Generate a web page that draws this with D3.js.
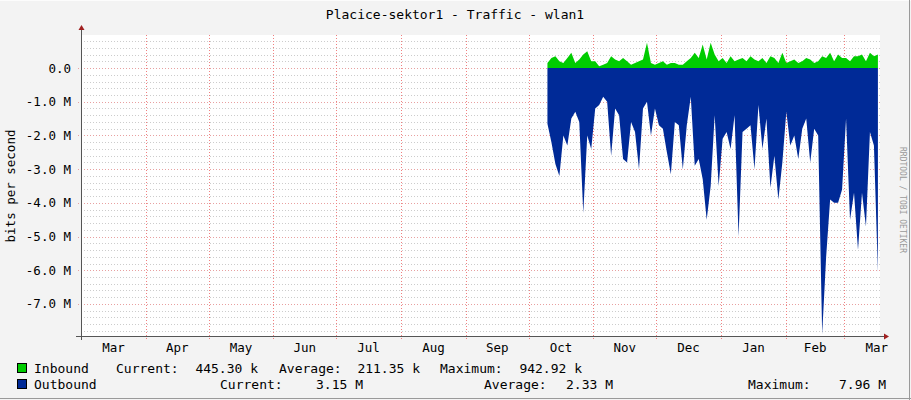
<!DOCTYPE html><html><head><meta charset="utf-8"><script src="https://cdn.jsdelivr.net/npm/d3@7"></script>
<style>body{margin:0;background:#f3f3f3}svg{display:block}text{font-family:"DejaVu Sans Mono",monospace;fill:#000}</style></head><body><svg id="c" width="911" height="400"></svg><script>
const title="Placice-sektor1 - Traffic - wlan1";
const monthLabels=["Mar","Apr","May","Jun","Jul","Aug","Sep","Oct","Nov","Dec","Jan","Feb","Mar"];
const monthStarts=["2013-03-01","2013-04-01","2013-05-01","2013-06-01","2013-07-01","2013-08-01","2013-09-01","2013-10-01","2013-11-01","2013-12-01","2014-01-01","2014-02-01","2014-03-01"];
const yTicks=[0,-1,-2,-3,-4,-5,-6,-7];
const dataStart="2013-10-10", dataEnd="2014-03-17";
const outbound=[1.65,2.2,2.85,3.2,2.0,2.3,1.5,1.3,1.6,4.3,2.0,2.4,1.2,1.1,0.85,1.0,2.6,1.2,1.4,2.7,2.8,1.6,1.9,3.0,1.2,1.0,2.0,1.2,1.7,1.8,2.5,3.15,1.6,1.7,3.0,1.7,0.85,2.9,2.7,3.3,4.5,3.5,1.4,3.5,2.1,1.9,2.4,1.4,5.0,1.9,1.8,1.7,3.0,1.1,2.4,1.5,3.55,2.6,3.9,2.8,1.3,2.3,2.0,2.7,1.8,1.5,2.8,1.8,2.0,7.9,5.6,3.9,4.0,4.0,3.6,1.5,4.5,3.7,5.4,3.7,4.7,1.9,2.3,6.05];
const inbound=[0.15,0.3,0.35,0.2,0.15,0.3,0.45,0.15,0.25,0.4,0.5,0.2,0.2,0.05,0.1,0.15,0.35,0.25,0.2,0.3,0.2,0.1,0.15,0.2,0.25,0.75,0.15,0.1,0.15,0.2,0.1,0.15,0.15,0.1,0.1,0.2,0.3,0.45,0.3,0.7,0.25,0.75,0.4,0.2,0.3,0.15,0.35,0.2,0.25,0.3,0.2,0.35,0.25,0.2,0.3,0.15,0.35,0.3,0.15,0.45,0.15,0.2,0.25,0.15,0.2,0.3,0.25,0.15,0.2,0.35,0.3,0.45,0.2,0.4,0.3,0.3,0.2,0.35,0.35,0.4,0.2,0.45,0.35,0.4];
const legendIn=["Inbound","Current:","445.30 k","Average:","211.35 k","Maximum:","942.92 k"];
const legendOut=["Outbound","Current:","3.15 M","Average:","2.33 M","Maximum:","7.96 M"];

const svg=d3.select("#c");
const P=d3.timeParse("%Y-%m-%d");
const x=d3.scaleTime().domain([P("2013-03-01"),P("2014-03-18")]).range([81,880]);
const y=d3.scaleLinear().domain([-7.95,0.98]).range([336,35]);
svg.append("rect").attr("width",911).attr("height",400).attr("fill","#f3f3f3");
svg.append("line").attr("x1",0).attr("x2",911).attr("y1",0.5).attr("y2",0.5).attr("stroke","#fcfcfc");
svg.append("line").attr("x1",0).attr("x2",911).attr("y1",398.5).attr("y2",398.5).attr("stroke","#999");
svg.append("line").attr("x1",909.5).attr("x2",909.5).attr("y1",0).attr("y2",400).attr("stroke","#999");
svg.append("rect").attr("x",81).attr("y",35).attr("width",799).attr("height",301).attr("fill","#fff");
// minor grid
d3.range(-7.8,0.99,0.2).forEach(v=>{if(Math.abs(v-Math.round(v))<0.01)return;
 svg.append("line").attr("x1",81).attr("x2",880).attr("y1",Math.round(y(v))+.5).attr("y2",Math.round(y(v))+.5).attr("stroke","#ccc").attr("stroke-dasharray","1,2");});
yTicks.forEach(v=>svg.append("line").attr("x1",78).attr("x2",880).attr("y1",Math.round(y(v))+.5).attr("y2",Math.round(y(v))+.5).attr("stroke","#e8a0a0").attr("stroke-dasharray","1,2"));
monthStarts.slice(1).forEach(m=>svg.append("line").attr("x1",Math.round(x(P(m)))+.5).attr("x2",Math.round(x(P(m)))+.5).attr("y1",35).attr("y2",339).attr("stroke","#f08080").attr("stroke-dasharray","1,2"));
// data
const t0=P(dataStart).getTime(),t1=P(dataEnd).getTime();
const tt=(i,n)=>new Date(t0+(t1-t0)*i/(n-1));
svg.append("path").datum(outbound).attr("fill","#002a97").attr("d",d3.area().x((d,i)=>x(tt(i,outbound.length))).y0(y(0)).y1(d=>y(-d)));
svg.append("path").datum(inbound).attr("fill","#00cc00").attr("d",d3.area().x((d,i)=>x(tt(i,inbound.length))).y0(y(0)).y1(d=>y(d)));
// axes
svg.append("line").attr("x1",76).attr("x2",884).attr("y1",336.5).attr("y2",336.5).attr("stroke","#555");
svg.append("line").attr("x1",81.5).attr("x2",81.5).attr("y1",340).attr("y2",30).attr("stroke","#555");
svg.append("path").attr("d","M884,333.5L889,336.5L884,339.5Z").attr("fill","#a02020");
svg.append("path").attr("d","M78.5,30L81.5,25L84.5,30Z").attr("fill","#a02020");
yTicks.forEach(v=>svg.append("text").attr("x",71).attr("y",y(v)+4.5).attr("text-anchor","end").attr("font-size",12.5).text(v===0?"0.0":v.toFixed(1)+" M"));
monthLabels.forEach((l,i)=>{const a=P(monthStarts[i]);const b=i<12?P(monthStarts[i+1]):P("2014-04-01");
 svg.append("text").attr("x",x(new Date((+a + +b)/2))).attr("y",352).attr("text-anchor","middle").attr("font-size",12.5).text(l);});
svg.append("text").attr("x",455).attr("y",19).attr("text-anchor","middle").attr("font-size",13).text(title);
svg.append("text").attr("transform","translate(900,200) rotate(90)").attr("text-anchor","middle").attr("font-size",8).style("fill","#999").text("RRDTOOL / TOBI OETIKER");
svg.append("text").attr("transform","translate(15,186) rotate(-90)").attr("text-anchor","middle").attr("font-size",12.5).text("bits per second");
// legend
const L=(arr,yy,col,xs)=>{svg.append("rect").attr("x",17.5).attr("y",yy-9.5).attr("width",9).attr("height",9).attr("fill",col).attr("stroke","#000");
 arr.forEach((s,i)=>svg.append("text").attr("x",xs[i]).attr("y",yy).attr("font-size",13).attr("text-anchor",i%2===0&&i>0?"end":"start").text(s));};
L(legendIn,373,"#00cc00",[34,116,258,279,420,440,582]);
L(legendOut,389,"#002a97",[34,220,363,484,613,748,886]);
</script></body></html>
